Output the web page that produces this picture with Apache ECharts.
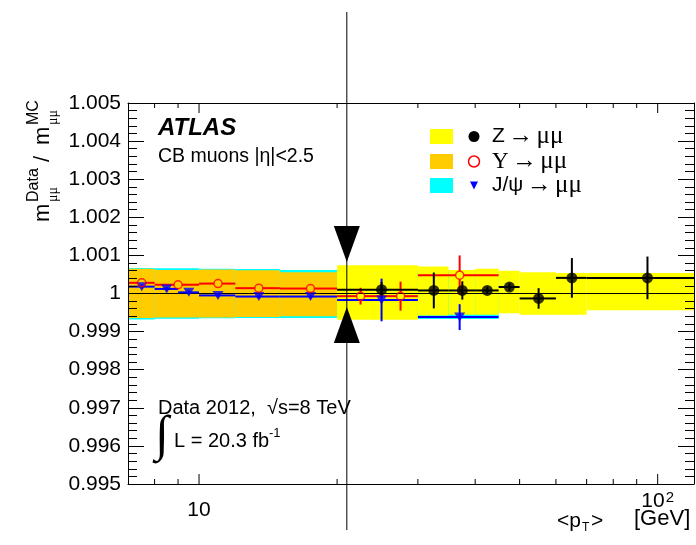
<!DOCTYPE html>
<html><head><meta charset="utf-8">
<script src="https://cdn.jsdelivr.net/npm/echarts@6/dist/echarts.min.js"></script>
<style>html,body{margin:0;padding:0;background:#fff}#c{width:696px;height:545px}</style>
</head><body><div id="c"></div>
<script>
// ---------------- data ----------------
// Z -> mumu
const zBinLo = [20, 30, 35, 40, 45, 50, 60, 70];
const zBinHi = [30, 35, 40, 45, 50, 60, 70, 120];
const zPt    = [25, 32.5, 37.5, 42.5, 47.5, 55, 65, 95];
const zVal   = [1.0001, 1.00008, 1.00008, 1.00008, 1.00017, 0.99987, 1.00041, 1.00041];
const zErr   = [0.0002, 0.00047, 0.00024, 0.0001, 0.0001, 0.00027, 0.00052, 0.00056];
const zSysUp = [0.00074, 0.00071, 0.00062, 0.00065, 0.0006, 0.00056, 0.00054, 0.00054];
const zSysDn = [0.00069, 0.00058, 0.00056, 0.00056, 0.00052, 0.00056, 0.00056, 0.00044];

// Upsilon -> mumu
const uBinLo = [7, 8, 10, 12, 15, 20, 25, 30];
const uBinHi = [8, 10, 12, 15, 20, 25, 30, 45];
const uPt    = [7.5, 9, 11, 13.5, 17.5, 22.5, 27.5, 37];
const uVal   = [1.00028, 1.00023, 1.00026, 1.00014, 1.00013, 0.99993, 0.99993, 1.00048];
const uErr   = [0.00005, 0.00005, 0.00005, 0.00005, 0.00005, 0.00022, 0.00038, 0.00052];
const uSysLo = [7, 8, 10, 12, 15];
const uSysHi = [8, 10, 12, 15, 20];
const uSysUp = [0.00065, 0.00062, 0.00063, 0.00061, 0.00056];
const uSysDn = [0.00064, 0.00063, 0.00063, 0.00062, 0.0006];

// J/psi -> mumu
const jBinLo = [7, 8, 9, 10, 12, 15, 20, 30];
const jBinHi = [8, 9, 10, 12, 15, 20, 30, 45];
const jPt    = [7.5, 8.5, 9.5, 11, 13.5, 17.5, 25, 37];
const jVal   = [1.00018, 1.00012, 1.00003, 0.99995, 0.99992, 0.99992, 0.99983, 0.99938];
const jErr   = [0.00005, 0.00005, 0.00005, 0.00005, 0.00005, 0.00005, 0.00056, 0.00034];
const jSysUp = [0.00067, 0.00066, 0.00066, 0.00065, 0.00064, 0.00062, 0.0006, 0.0006];
const jSysDn = [0.00068, 0.00066, 0.00066, 0.00065, 0.00064, 0.00064, 0.0006, 0.00067];

// axis ranges and ticks
const xMin = 7, xMax = 120;
const yMin = 0.995, yMax = 1.005, yStep = 0.001;
const xMajorTicks = [10, 100];
const xMinorTicks = [8, 9, 20, 30, 40, 50, 60, 70, 80, 90];
const splitPt = 21;   // boundary between the low-pT and Z regions

// ---------------- drawing ----------------
const FONT = 'Liberation Sans';
const SERIF = 'Liberation Serif';
const chart = echarts.init(document.getElementById('c'), null, {renderer: 'canvas'});

function bandData(lo, hi, up, dn) {
  return lo.map((v, i) => [v, hi[i], 1 + up[i], 1 - dn[i]]);
}
function bandSeries(data, color, z) {
  return {
    type: 'custom', z: z, silent: true,
    encode: {x: [0, 1], y: [2, 3]},
    data: data,
    renderItem: function (params, api) {
      const p0 = api.coord([api.value(0), api.value(2)]);
      const p1 = api.coord([api.value(1), api.value(3)]);
      return {type: 'rect', shape: {x: p0[0], y: p0[1], width: p1[0] - p0[0], height: p1[1] - p0[1]},
              style: {fill: color, stroke: null}};
    }
  };
}
function errData(pt, val, lo, hi, err) {
  return pt.map((p, i) => [p, val[i], lo[i], hi[i], err[i]]);
}
function errSeries(data, color, gap, width, z) {
  return {
    type: 'custom', z: z, silent: true,
    encode: {x: 0, y: 1},
    data: data,
    renderItem: function (params, api) {
      const x = api.value(0), v = api.value(1), e = api.value(4);
      const c = api.coord([x, v]);
      const xl = api.coord([api.value(2), v])[0];
      const xr = api.coord([api.value(3), v])[0];
      const yt = api.coord([x, v + e])[1];
      const yb = api.coord([x, v - e])[1];
      const st = {stroke: color, lineWidth: width};
      const kids = [
        {type: 'line', shape: {x1: xl, y1: c[1], x2: c[0] - gap, y2: c[1]}, style: st},
        {type: 'line', shape: {x1: c[0] + gap, y1: c[1], x2: xr, y2: c[1]}, style: st}
      ];
      if (yt < c[1] - gap) kids.push({type: 'line', shape: {x1: c[0], y1: yt, x2: c[0], y2: c[1] - gap}, style: st});
      if (yb > c[1] + gap) kids.push({type: 'line', shape: {x1: c[0], y1: c[1] + gap, x2: c[0], y2: yb}, style: st});
      return {type: 'group', children: kids};
    }
  };
}
function tickSeries(values, len) {
  return {
    type: 'custom', z: 20, silent: true, clip: false,
    encode: {x: 0, y: 1},
    data: values.map(v => [v, 1]),
    renderItem: function (params, api) {
      const b = api.coord([api.value(0), yMin]);
      const t = api.coord([api.value(0), yMax]);
      const st = {stroke: '#000', lineWidth: 1};
      return {type: 'group', children: [
        {type: 'line', shape: {x1: b[0], y1: b[1], x2: b[0], y2: b[1] - len}, style: st},
        {type: 'line', shape: {x1: t[0], y1: t[1], x2: t[0], y2: t[1] + len}, style: st}
      ]};
    }
  };
}

const yAxisBase = {
  type: 'value', min: yMin, max: yMax, interval: yStep, z: 20,
  axisLine: {show: true, lineStyle: {color: '#000', width: 1}},
  axisTick: {show: true, inside: true, length: 16, lineStyle: {color: '#000'}},
  minorTick: {show: true, splitNumber: 5, length: 9, lineStyle: {color: '#000'}},
  splitLine: {show: false}
};

chart.setOption({
  animation: false,
  backgroundColor: '#fff',
  grid: {left: 128, right: 2, top: 103, bottom: 61, containLabel: false, outerBoundsMode: 'none'},
  xAxis: [{
    type: 'log', logBase: 10, min: xMin, max: xMax, z: 20,
    axisLine: {show: true, onZero: false, lineStyle: {color: '#000', width: 1}},
    axisTick: {show: false}, minorTick: {show: false}, splitLine: {show: false},
    axisLabel: {
      show: true, margin: 6, color: '#000', fontFamily: FONT, fontSize: 21,
      showMinLabel: false, showMaxLabel: false,
      formatter: function (v) {
        if (Math.abs(v - 10) < 1e-6) return '{e|}\n{b|10}';
        if (Math.abs(v - 100) < 1e-6) return '{b|10}{s|2}';
        return '';
      },
      rich: {
        e: {height: 9, lineHeight: 9},
        b: {fontFamily: FONT, fontSize: 21, color: '#000', lineHeight: 22, verticalAlign: 'bottom'},
        s: {fontFamily: FONT, fontSize: 15, color: '#000', lineHeight: 22, verticalAlign: 'top', padding: [0, 0, 0, 1]}
      }
    }
  }, {
    type: 'log', logBase: 10, min: xMin, max: xMax, position: 'top',
    axisLine: {show: true, lineStyle: {color: '#000', width: 1}},
    axisTick: {show: false}, axisLabel: {show: false}, splitLine: {show: false}
  }],
  yAxis: [Object.assign({}, yAxisBase, {
    position: 'left',
    axisLabel: {show: true, margin: 7, color: '#000', fontFamily: FONT, fontSize: 21}
  }), Object.assign({}, yAxisBase, {
    position: 'right', axisLabel: {show: false}
  })],
  series: [
    bandSeries(bandData(jBinLo, jBinHi, jSysUp, jSysDn), '#00ffff', 1),
    bandSeries(bandData(uSysLo, uSysHi, uSysUp, uSysDn), '#ffcc00', 2),
    bandSeries(bandData(zBinLo, zBinHi, zSysUp, zSysDn), '#ffff00', 3),
    {
      type: 'custom', z: 4, silent: true, encode: {x: 0, y: 1},
      data: [[xMin, 1, xMax]],
      renderItem: function (params, api) {
        const a = api.coord([api.value(0), api.value(1)]);
        const b = api.coord([api.value(2), api.value(1)]);
        return {type: 'line', shape: {x1: a[0], y1: a[1], x2: b[0], y2: b[1]}, style: {stroke: '#000', lineWidth: 1}};
      }
    },
    errSeries(errData(jPt, jVal, jBinLo, jBinHi, jErr), '#0000ff', 0, 2, 5),
    errSeries(errData(uPt, uVal, uBinLo, uBinHi, uErr), '#ff0000', 4, 2, 6),
    errSeries(errData(zPt, zVal, zBinLo, zBinHi, zErr), '#000000', 0, 2, 7),
    {
      name: 'J/psi', type: 'scatter', z: 8, silent: true,
      symbol: 'triangle', symbolRotate: 180, symbolSize: [11, 9],
      itemStyle: {color: '#0000ff'},
      data: jPt.map((p, i) => [p, jVal[i]])
    },
    {
      name: 'Upsilon', type: 'scatter', z: 9, silent: true,
      symbol: 'circle', symbolSize: 8,
      itemStyle: {color: 'rgba(0,0,0,0)', borderColor: '#ff0000', borderWidth: 1.5},
      data: uPt.map((p, i) => [p, uVal[i]])
    },
    {
      name: 'Z', type: 'scatter', z: 10, silent: true,
      symbol: 'circle', symbolSize: 11,
      itemStyle: {color: '#000'},
      data: zPt.map((p, i) => [p, zVal[i]])
    },
    tickSeries(xMajorTicks, 10),
    tickSeries(xMinorTicks, 5)
  ]
});

// annotations: region divider, labels, legend, axis titles
const xs = chart.convertToPixel({xAxisIndex: 0}, splitPt);
const g = [];
g.push({type: 'line', z: 30, shape: {x1: xs, y1: 12, x2: xs, y2: 530}, style: {stroke: '#000', lineWidth: 1}});
g.push({type: 'polygon', z: 30, shape: {points: [[xs - 13, 226], [xs + 13, 226], [xs, 262]]}, style: {fill: '#000'}});
g.push({type: 'polygon', z: 30, shape: {points: [[xs - 13, 343], [xs + 13, 343], [xs, 307]]}, style: {fill: '#000'}});

function txt(x, y, text, size, extra) {
  return Object.assign({type: 'text', z: 40, x: x, y: y,
    style: Object.assign({text: text, fill: '#000', font: size + 'px "' + FONT + '"', verticalAlign: 'top'}, extra || {})});
}
g.push(txt(158, 116, 'ATLAS', 24, {font: 'italic bold 24px "' + FONT + '"'}));
g.push(txt(158, 147, 'CB muons |η|<2.5', 19.5));
g.push(txt(158, 398, 'Data 2012,  √s=8 TeV', 20));
g.push(txt(155, 412, '∫', 50, {font: '50px "' + SERIF + '"'}));
g.push(txt(174, 431, 'L = 20.3 fb', 20));
g.push(txt(269, 427, '-1', 13));

// legend
const legRows = [
  {box: '#ffff00', y: 129, label: ['Z', '→', 'μμ']},
  {box: '#ffcc00', y: 154, label: ['Υ', '→', 'μμ']},
  {box: '#00ffff', y: 178, label: ['J/ψ', '→', 'μμ']}
];
legRows.forEach(function (r, i) {
  g.push({type: 'rect', z: 40, shape: {x: 430, y: r.y, width: 23, height: 15}, style: {fill: r.box}});
  const cy = r.y + 7.5;
  if (i === 0) g.push({type: 'circle', z: 40, shape: {cx: 474, cy: cy, r: 5.5}, style: {fill: '#000'}});
  if (i === 1) g.push({type: 'circle', z: 40, shape: {cx: 474, cy: cy, r: 5.5}, style: {fill: 'none', stroke: '#ff0000', lineWidth: 1.5}});
  if (i === 2) g.push({type: 'polygon', z: 40, shape: {points: [[470, cy - 4], [478, cy - 4], [474, cy + 4]]}, style: {fill: '#0000ff'}});
  g.push({type: 'text', z: 40, x: 492, y: cy, style: {
    text: '{a|' + r.label[0] + '} {b|' + r.label[1] + '} {b|' + r.label[2] + '}', verticalAlign: 'middle',
    rich: {
      a: {fontFamily: i === 1 ? SERIF : FONT, fontSize: i === 1 ? 23 : 21, fill: '#000'},
      b: {fontFamily: SERIF, fontSize: 25, fill: '#000'}
    }}});
});

// x axis title
g.push(txt(557, 511, '<p', 21));
g.push(txt(582, 522, 'T', 12));
g.push(txt(591, 511, '>', 21));
g.push(txt(634, 508, '[GeV]', 22));

// y axis title (rotated)
g.push({type: 'group', z: 40, x: 54, y: 222, rotation: Math.PI / 2, children: [
  {type: 'text', x: 0, y: 0, style: {text: 'm', font: '22px "' + FONT + '"', fill: '#000', verticalAlign: 'bottom'}},
  {type: 'text', x: 20, y: 6, style: {text: 'μμ', font: '14px "' + SERIF + '"', fill: '#000', verticalAlign: 'bottom'}},
  {type: 'text', x: 20, y: -12, style: {text: 'Data', font: '16px "' + FONT + '"', fill: '#000', verticalAlign: 'bottom'}},
  {type: 'text', x: 60, y: 0, style: {text: '/', font: '22px "' + FONT + '"', fill: '#000', verticalAlign: 'bottom'}},
  {type: 'text', x: 77, y: 0, style: {text: 'm', font: '22px "' + FONT + '"', fill: '#000', verticalAlign: 'bottom'}},
  {type: 'text', x: 97, y: 6, style: {text: 'μμ', font: '14px "' + SERIF + '"', fill: '#000', verticalAlign: 'bottom'}},
  {type: 'text', x: 97, y: -12, style: {text: 'MC', font: '16px "' + FONT + '"', fill: '#000', verticalAlign: 'bottom'}}
]});

chart.setOption({graphic: g});
</script>
</body></html>
